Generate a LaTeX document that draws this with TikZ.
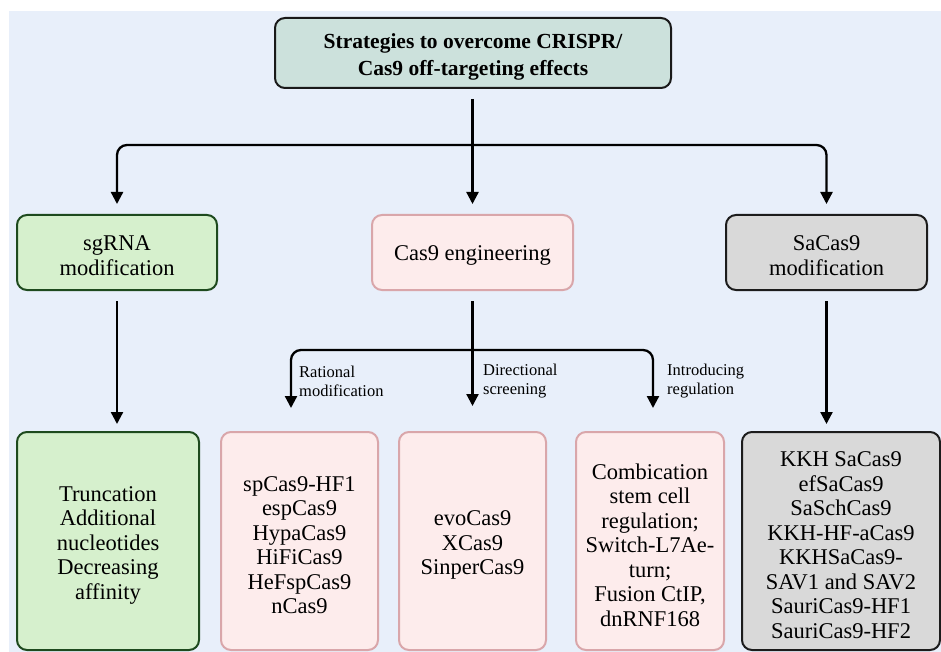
\documentclass[tikz,border=0pt]{standalone}
\usepackage{fontspec}
\setmainfont{Liberation Serif}
\usetikzlibrary{arrows.meta}
\definecolor{bgc}{HTML}{E8EFFA}
\definecolor{topfill}{HTML}{CCE1DC}
\definecolor{grfill}{HTML}{D6F0CD}
\definecolor{grdraw}{HTML}{1E4A1E}
\definecolor{pkfill}{HTML}{FDECEC}
\definecolor{pkdraw}{HTML}{D9A6AA}
\definecolor{gyfill}{HTML}{D9D9D9}
\definecolor{gydraw}{HTML}{1C1C1C}
\tikzset{
  box/.style={rounded corners=10pt, line width=2pt, inner sep=0pt},
  topbox/.style={box, fill=topfill, draw=black!90},
  txt/.style={align=center, inner sep=0pt},
  topfont/.style={txt, font=\bfseries\fontsize{21.5}{27}\selectfont},
  midfont/.style={txt, font=\fontsize{22.5}{25}\selectfont},
  lowfont/.style={txt, font=\fontsize{22.5}{24.5}\selectfont},
  greenbox/.style={box, fill=grfill, draw=grdraw},
  pinkbox/.style={box, fill=pkfill, draw=pkdraw},
  graybox/.style={box, fill=gyfill, draw=gydraw},
  arr/.style={line width=2.3pt, -{Triangle[width=12pt,length=12pt]}},
  arrboth/.style={line width=2.3pt, {Triangle[width=12pt,length=12pt]}-{Triangle[width=12pt,length=12pt]}, rounded corners=10pt},
  lbl/.style={anchor=west, align=left, inner sep=0pt, font=\fontsize{16.5}{19}\selectfont}
}
\begin{document}
\begin{tikzpicture}[x=1pt,y=-1pt]
\useasboundingbox (0,0) rectangle (941,652);
\fill[bgc] (9,11) rectangle (941,652);

% top
\node[topbox, minimum width=396pt, minimum height=70pt] (top) at (473,53) {};
\node[topfont] (topt) at (473,57) {Strategies to overcome CRISPR/\\Cas9 off-targeting effects};

% second row
\node[greenbox, minimum width=200pt, minimum height=75pt] (sg) at (117,252.5) {};
\node[pinkbox, minimum width=201pt, minimum height=75pt] (cas) at (472.5,252.5) {};
\node[graybox, minimum width=201pt, minimum height=75pt] (sa) at (826.5,252.5) {};
\node[midfont] (sgt) at (117,255.5) {sgRNA\\modification};
\node[midfont] (cast) at (472.5,255.5) {Cas9 engineering};
\node[midfont] (sat) at (826.5,255.5) {SaCas9\\modification};

% bottom row boxes
\node[greenbox, minimum width=182pt, minimum height=218pt] (g) at (108,541) {};
\node[pinkbox, minimum width=157pt, minimum height=218pt] (p1) at (299.5,541) {};
\node[pinkbox, minimum width=147pt, minimum height=218pt] (p2) at (472.5,541) {};
\node[pinkbox, minimum width=148pt, minimum height=218pt] (p3) at (650,541) {};
\node[graybox, minimum width=198pt, minimum height=218pt] (gy) at (841,541) {};
% bottom row texts
\node[lowfont] (gt) at (108,545) {Truncation\\Additional\\nucleotides\\Decreasing\\affinity};
\node[lowfont] (p1t) at (299.5,545) {spCas9-HF1\\espCas9\\HypaCas9\\HiFiCas9\\HeFspCas9\\nCas9};
\node[lowfont] (p2t) at (472.5,545) {evoCas9\\XCas9\\SinperCas9};
\node[lowfont] (p3t) at (650,545) {Combication\\stem cell\\regulation;\\Switch-L7Ae-\\turn;\\Fusion CtIP,\\dnRNF168};
\node[lowfont] (gyt) at (841,545) {KKH SaCas9\\efSaCas9\\SaSchCas9\\KKH-HF-aCas9\\KKHSaCas9-\\SAV1 and SAV2\\SauriCas9-HF1\\SauriCas9-HF2};

% top connectors
\coordinate (b1) at (471,145);
\draw[arr] ([yshift=-10pt]top.south -| cas.north) -- ([yshift=10pt]cas.north);
\draw[arrboth] ([yshift=10pt]sg.north) |- (b1) -| ([yshift=10pt]sa.north);

% second level connectors
\draw[arr] ([yshift=-10pt]sg.south) -- ([yshift=7pt]sg.south |- g.north);
\draw[arr] ([yshift=-10pt]sa.south) -- ([yshift=7pt]sa.south |- gy.north);

\coordinate (b2) at (472,350);
\coordinate (a1) at (291,408);
\coordinate (a3) at (653,408);
\draw[arr] ([yshift=-10pt]cas.south) -- ([yshift=25pt]cas.south |- p2.north);
\draw[arrboth] (a1) |- (b2) -| (a3);

% labels
\node[lbl] (l1) at (299,381) {Rational\\modification};
\node[lbl] (l2) at (483,381) {Directional\\screening};
\node[lbl] (l3) at (667,381) {Introducing\\regulation};
\end{tikzpicture}
\end{document}
